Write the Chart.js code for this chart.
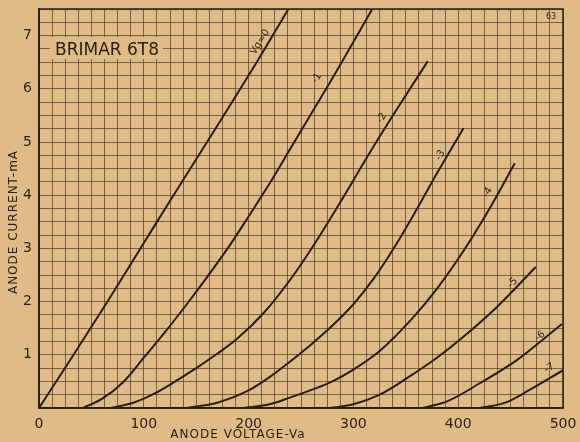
<!DOCTYPE html>
<html>
<head>
<meta charset="utf-8">
<title>Brimar 6T8 anode characteristics</title>
<script src="https://cdn.jsdelivr.net/npm/chart.js@4"></script>
<style>
  body { margin: 0; background: #e0bb87; }
  canvas { display: block; }
</style>
</head>
<body>
<canvas id="myChart" width="580" height="442"></canvas>
<script>
const ctx = document.getElementById('myChart');

// anode voltage (V) and anode current (mA), one pair of arrays per grid voltage
const va0 = [0, 33, 66, 100, 130, 170, 209, 238];
const ia0 = [0, 1.0, 2.02, 3.1, 4.05, 5.3, 6.54, 7.5];

const va1 = [42, 60, 80, 101, 120, 141, 160, 180, 200, 220, 240, 280, 318];
const ia1 = [0, 0.17, 0.48, 0.97, 1.42, 1.95, 2.45, 3.0, 3.6, 4.22, 4.88, 6.2, 7.5];

const va2 = [68, 90, 110, 130, 150, 170, 189, 215, 240, 265, 290, 315, 341, 371];
const ia2 = [0, 0.1, 0.27, 0.5, 0.75, 1.02, 1.3, 1.8, 2.42, 3.15, 3.95, 4.78, 5.6, 6.52];

const va3 = [141, 170, 200, 220, 240, 260, 280, 300, 320, 340, 360, 380, 405];
const ia3 = [0, 0.1, 0.33, 0.58, 0.88, 1.2, 1.55, 1.95, 2.45, 3.05, 3.72, 4.42, 5.26];

const va4 = [195, 220, 240, 260, 280, 300, 325, 356, 380, 405, 430, 454];
const ia4 = [0, 0.07, 0.2, 0.34, 0.5, 0.72, 1.07, 1.68, 2.25, 2.95, 3.75, 4.6];

const va5 = [278, 300, 325, 351, 380, 405, 437, 474];
const ia5 = [0, 0.07, 0.25, 0.56, 0.95, 1.34, 1.9, 2.65];

const va6 = [366, 390, 421, 456, 499];
const ia6 = [0, 0.13, 0.47, 0.9, 1.58];

const va7 = [421, 445, 468, 500];
const ia7 = [0, 0.1, 0.34, 0.71];

const gridVolts = ['Vg=0', '-1', '-2', '-3', '-4', '-5', '-6', '-7'];

// where each curve's label sits, in volts / mA, and how far it leans
const labelVa = [211, 265, 327, 383, 428, 452, 478, 487];
const labelIa = [6.88, 6.2, 5.45, 4.75, 4.05, 2.35, 1.35, 0.75];
const labelTilt = [-58, -58, -58, -58, -58, -45, -38, -32];

const paper = '#dfbb88';
const ink = '#2a1e13';
const rule = 'rgba(70, 48, 28, 0.66)';

const curves = [[va0, ia0], [va1, ia1], [va2, ia2], [va3, ia3],
                [va4, ia4], [va5, ia5], [va6, ia6], [va7, ia7]];

// paper, frame, the maker's box and all the loose lettering
const sheet = {
  id: 'sheet',
  beforeDraw(chart) {
    const c = chart.ctx;
    c.save();
    c.fillStyle = paper;
    c.fillRect(0, 0, chart.width, chart.height);
    c.restore();
  },
  afterDatasetsDraw(chart) {
    const c = chart.ctx;
    const a = chart.chartArea;
    const sx = chart.scales.x, sy = chart.scales.y;
    c.save();

    c.strokeStyle = ink;
    c.lineWidth = 1.5;
    c.strokeRect(a.left, a.top, a.right - a.left, a.bottom - a.top);

    c.fillStyle = paper;
    c.fillRect(50, 37, 113, 22);
    c.fillStyle = ink;
    c.font = '17px "DejaVu Sans"';
    c.textBaseline = 'alphabetic';
    c.fillText('BRIMAR 6T8', 55, 55);

    c.font = '8px "DejaVu Sans"';
    c.fillText('63', 546, 19);

    c.font = '10px "DejaVu Sans"';
    c.textAlign = 'center';
    c.textBaseline = 'middle';
    gridVolts.forEach((t, k) => {
      c.save();
      c.translate(sx.getPixelForValue(labelVa[k]), sy.getPixelForValue(labelIa[k]));
      c.rotate(labelTilt[k] * Math.PI / 180);
      c.fillText(t, 0, 0);
      c.restore();
    });

    c.font = '12px "DejaVu Sans"';
    c.letterSpacing = '1px';
    c.fillText('ANODE VOLTAGE-Va', 238, 435);
    c.translate(14, 222);
    c.rotate(-Math.PI / 2);
    c.fillText('ANODE CURRENT-mA', 0, 0);
    c.restore();
  }
};

new Chart(ctx, {
  type: 'line',
  data: {
    datasets: curves.map(([va, ia], k) => ({
      label: gridVolts[k],
      data: va.map((v, i) => ({ x: v, y: ia[i] })),
      borderColor: ink,
      borderWidth: 2,
      pointRadius: 0,
      cubicInterpolationMode: 'monotone',
      fill: false
    }))
  },
  options: {
    responsive: false,
    animation: false,
    layout: { padding: { top: 9, right: 17, left: 0, bottom: 0 } },
    plugins: {
      legend: { display: false },
      tooltip: { enabled: false }
    },
    scales: {
      x: {
        type: 'linear',
        min: 0,
        max: 500,
        ticks: {
          stepSize: 12.5,
          autoSkip: false,
          maxRotation: 0,
          padding: 8,
          color: ink,
          font: { family: 'DejaVu Sans', size: 14 },
          callback: v => (v % 100 === 0 ? v : '')
        },
        grid: { color: rule, lineWidth: 1, drawTicks: false },
        border: { color: ink, width: 1.5 },
        afterFit: s => {
          s.height = 34;
          s.paddingLeft = 0;
          s.paddingRight = 0;
        }
      },
      y: {
        min: 0,
        max: 7.5,
        ticks: {
          stepSize: 0.25,
          autoSkip: false,
          padding: 7,
          color: ink,
          font: { family: 'DejaVu Sans', size: 14 },
          callback: v => (v > 0 && v % 1 === 0 ? v : '')
        },
        grid: { color: rule, lineWidth: 1, drawTicks: false },
        border: { color: ink, width: 1.5 },
        afterFit: s => {
          s.width = 39;
          s.paddingTop = 0;
          s.paddingBottom = 0;
        }
      }
    }
  },
  plugins: [sheet]
});
</script>
</body>
</html>
